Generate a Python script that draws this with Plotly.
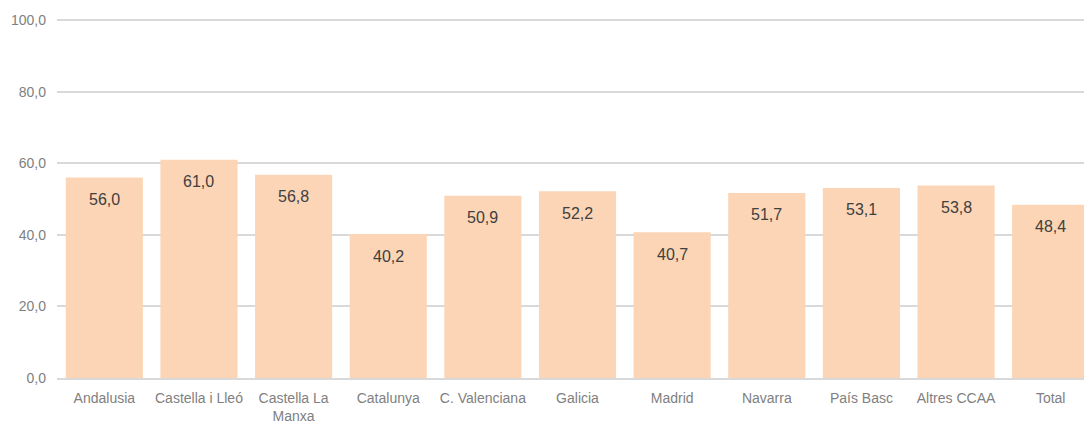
import plotly.graph_objects as go

# ---------------------------
# Data
# ---------------------------
regions = ["Andalusia", "Castella i Lleó", "Castella La<br>Manxa", "Catalunya",
           "C. Valenciana", "Galicia", "Madrid", "Navarra", "País Basc",
           "Altres CCAA", "Total"]
values = [56.0, 61.0, 56.8, 40.2, 50.9, 52.2, 40.7, 51.7, 53.1, 53.8, 48.4]
y_ticks = [0, 20, 40, 60, 80, 100]
y_tick_labels = ["0,0", "20,0", "40,0", "60,0", "80,0", "100,0"]

FONT = "Liberation Sans Narrow, Arial Narrow, sans-serif"

fig = go.Figure()
fig.add_trace(go.Bar(
    x=regions,
    y=values,
    marker=dict(color="#FBD5B5", line=dict(width=0)),
    hoverinfo="x+y",
))

# value labels inside the bars, near the top
for r, v in zip(regions, values):
    fig.add_annotation(
        x=r, y=v, text=f"{v:.1f}".replace(".", ","),
        showarrow=False, yanchor="middle", yshift=-22,
        font=dict(family=FONT, size=16, color="#404040"),
    )

# page body has an 8px margin; the plot runs a little past the right edge
fig.update_layout(
    width=1090, height=415,
    margin=dict(l=49, r=0, t=11, b=45),
    plot_bgcolor="white", paper_bgcolor="white",
    bargap=0.185,
    showlegend=False,
    font=dict(family=FONT, size=13, color="#808080"),
)
fig.update_xaxes(
    showgrid=False, showline=True, linecolor="#D9D9D9", linewidth=2,
    ticks="", ticklabelstandoff=6,
    tickfont=dict(family=FONT, size=14, color="#808080"),
)
fig.update_yaxes(
    range=[0, 100.3], tickvals=y_ticks, ticktext=y_tick_labels,
    showgrid=True, gridcolor="#D9D9D9", gridwidth=1.5,
    zeroline=False, showline=False, ticks="", ticklabelstandoff=10,
    tickfont=dict(family=FONT, size=14, color="#808080"),
)

fig.write_html("out.html")
